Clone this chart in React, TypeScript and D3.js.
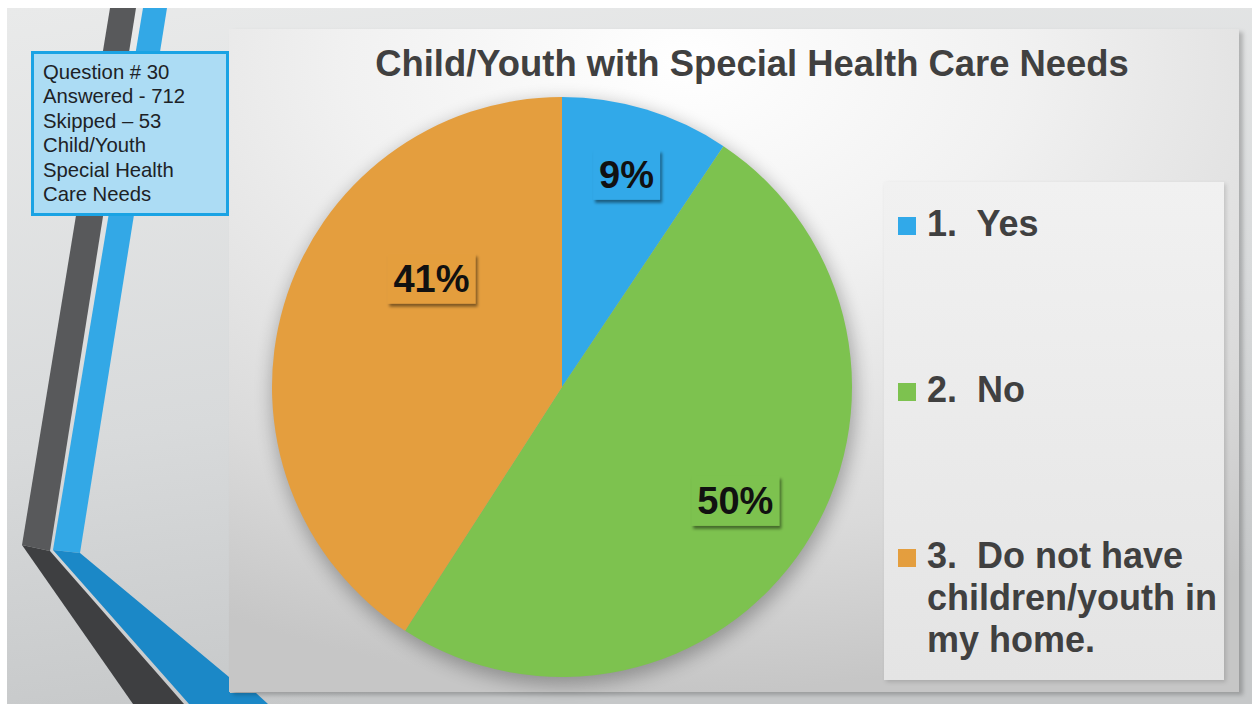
import React from "react";
import * as d3 from "d3";

const title = "Child/Youth with Special Health Care Needs";
const infoLines = ["Question # 30", "Answered - 712", "Skipped \u2013 53", "Child/Youth", "Special Health", "Care Needs"];
const categories = ["1.  Yes", "2.  No", "3.  Do not have children/youth in my home."];
const legendLines = [["1.  Yes"], ["2.  No"], ["3.  Do not have", "children/youth in", "my home."]];
const values = [9.4, 49.7, 40.9];
const percentLabels = ["9%", "50%", "41%"];
const colors = ["#31a9e9", "#7dc24f", "#e49e3e"];
// label placement (fraction of radius, optional fixed angle in degrees)
const labelRadiusFrac = [0.765, 0.715, 0.585];
const labelAngleDeg: (number | null)[] = [null, null, 309.7];

const W = 1252;
const H = 704;
const FONT = "'Liberation Sans', Arial, sans-serif";

export default function App() {
  const cx = 562;
  const cy = 387;
  const r = 290;
  const pie = d3.pie<number>().sort(null).value((d) => d)(values);
  const arc = d3.arc<d3.PieArcDatum<number>>().innerRadius(0).outerRadius(r);

  const labelPos = pie.map((p, i) => {
    const ang = labelAngleDeg[i] !== null ? ((labelAngleDeg[i] as number) * Math.PI) / 180 : (p.startAngle + p.endAngle) / 2;
    const rr = labelRadiusFrac[i] * r;
    return [Math.sin(ang) * rr, -Math.cos(ang) * rr];
  });

  const labelFont = 38;
  const textW = (s: string) => {
    const wmap: Record<string, number> = { "%": 0.889 };
    let w = 0;
    for (const c of s) w += wmap[c] ?? 0.556;
    return w * labelFont;
  };

  const legendX = 898;
  const legendY0 = 236;
  const legendStep = 166;
  const legendLH = 42;

  return (
    <svg width={W} height={H} style={{ position: "absolute", left: 0, top: 0, display: "block" }} xmlns="http://www.w3.org/2000/svg">
      <defs>
        <linearGradient id="slideBg" x1="0" y1="0" x2="0.25" y2="1">
          <stop offset="0" stopColor="#e9eaea" />
          <stop offset="0.6" stopColor="#d8dadb" />
          <stop offset="1" stopColor="#c6c8c9" />
        </linearGradient>
        <radialGradient id="panelBg" cx="0.45" cy="0.05" r="0.95">
          <stop offset="0" stopColor="#ffffff" />
          <stop offset="0.35" stopColor="#f1f1f1" />
          <stop offset="0.75" stopColor="#dadada" />
          <stop offset="1" stopColor="#c6c6c6" />
        </radialGradient>
        <linearGradient id="legendBg" x1="0" y1="0" x2="0" y2="1">
          <stop offset="0" stopColor="#f1f1f1" />
          <stop offset="1" stopColor="#e4e4e4" />
        </linearGradient>
        <filter id="panelShadow" x="-5%" y="-5%" width="110%" height="110%">
          <feDropShadow dx="4" dy="3" stdDeviation="2" floodColor="#000" floodOpacity="0.22" />
        </filter>
        <filter id="pieShadow" x="-20%" y="-20%" width="140%" height="140%">
          <feGaussianBlur stdDeviation="9" />
        </filter>
        <filter id="boxShadow" x="-20%" y="-20%" width="150%" height="160%">
          <feDropShadow dx="2" dy="3" stdDeviation="1.5" floodColor="#000" floodOpacity="0.45" />
        </filter>
        <filter id="legendShadow" x="-5%" y="-5%" width="110%" height="110%">
          <feDropShadow dx="2" dy="2" stdDeviation="2" floodColor="#000" floodOpacity="0.15" />
        </filter>
      </defs>

      <rect x={0} y={0} width={W} height={H} fill="#ffffff" />
      <rect x={7} y={8} width={W - 7} height={H - 8} fill="url(#slideBg)" />

      {/* decorative stripes */}
      <polygon points="110,8 136,8 50,551 22,545" fill="#58595b" />
      <polygon points="22,545 50,551 184,704 133,704" fill="#3e3f41" />
      <polygon points="143,8 167,8 80,553 53,550" fill="#33a8e6" />
      <polygon points="53,550 80,553 229,677 230,693 256,693 268,704 189,704" fill="#1b88c7" />

      {/* chart panel */}
      <rect x={229} y={29} width={1010} height={663} fill="url(#panelBg)" filter="url(#panelShadow)" />

      {/* info box */}
      <rect x={32.5} y={52.5} width={195} height={162} fill="#acdcf4" stroke="#1aa3e4" strokeWidth={3} />
      {infoLines.map((t, i) => (
        <text key={i} x={43} y={78.5 + i * 24.5} fontFamily={FONT} fontSize={20.3} fill="#1d2226">
          {t}
        </text>
      ))}

      {/* title */}
      <text x={752} y={75.5} textAnchor="middle" fontFamily={FONT} fontWeight="bold" fontSize={36.4} fill="#404040">
        {title}
      </text>

      {/* legend box */}
      <rect x={884} y={182} width={340} height={498} fill="url(#legendBg)" filter="url(#legendShadow)" />

      {/* pie shadow */}
      <circle cx={cx + 2} cy={cy + 6} r={r + 2} fill="#000" opacity={0.28} filter="url(#pieShadow)" />

      <g transform={`translate(${cx},${cy})`}>
        {pie.map((p, i) => (
          <path key={i} d={arc(p) || ""} fill={colors[i]} />
        ))}
        {pie.map((p, i) => {
          const [lx, ly] = labelPos[i];
          const tw = textW(percentLabels[i]);
          const bw = tw + 12;
          const bh = 50;
          return (
            <g key={"l" + i}>
              <rect x={lx - bw / 2} y={ly - bh / 2} width={bw} height={bh} fill={colors[i]} filter="url(#boxShadow)" />
              <text x={lx} y={ly + 13} textAnchor="middle" fontFamily={FONT} fontWeight="bold" fontSize={labelFont} fill="#111111">
                {percentLabels[i]}
              </text>
            </g>
          );
        })}
      </g>

      {/* legend */}
      {categories.map((c, i) => (
        <g key={c}>
          <rect x={legendX} y={legendY0 + i * legendStep - 19} width={18} height={18} fill={colors[i]} />
          {legendLines[i].map((line, j) => (
            <text
              key={j}
              x={legendX + 29}
              y={legendY0 + i * legendStep + j * legendLH}
              fontFamily={FONT}
              fontWeight="bold"
              fontSize={36}
              fill="#404040"
              style={{ whiteSpace: "pre" }}
            >
              {line}
            </text>
          ))}
        </g>
      ))}
    </svg>
  );
}
